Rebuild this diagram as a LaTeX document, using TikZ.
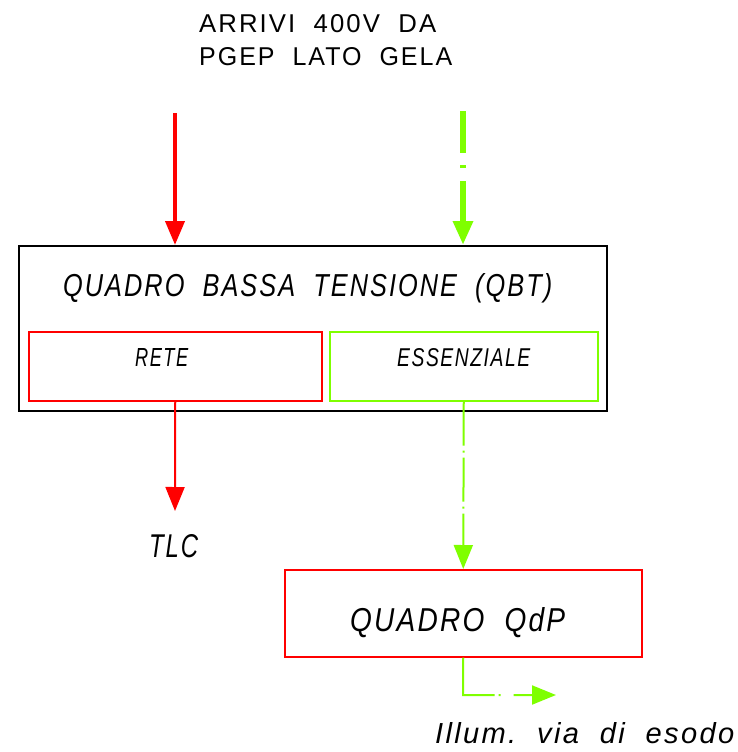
\documentclass[tikz,border=0pt]{standalone}
\usepackage{fontspec}
\usepackage{graphicx}
\usetikzlibrary{arrows.meta}
\setmainfont{Liberation Sans}
\newfontfamily\cadfont[LetterSpace=8]{Liberation Sans}
\definecolor{cadred}{RGB}{255,0,0}
\definecolor{cadgreen}{RGB}{127,255,0}
\newcommand\fittext[3]{\resizebox{#1pt}{#2pt}{\cadfont #3}}
\tikzset{
  box/.style={draw, inner sep=0pt, anchor=north west},
  txt/.style={inner sep=0pt, anchor=base west, text=black},
  tip/.style={-{Triangle[length=24pt,width=19pt]}},
  greendash/.style={cadgreen, dash pattern=#1},
}
\begin{document}
\begin{tikzpicture}[x=1pt,y=-1pt]
\useasboundingbox (0,0) rectangle (737,752);
% boxes
\node[box, line width=1.5pt, minimum width=588pt, minimum height=165pt] (qbt) at (18,245) {};
\node[box, cadred, line width=1.5pt, minimum width=293pt, minimum height=69pt] (rete) at (28,331) {};
\node[box, cadgreen, line width=1.5pt, minimum width=268pt, minimum height=69pt] (ess) at (329,331) {};
\node[box, cadred, line width=1.5pt, minimum width=357pt, minimum height=87pt] (qdp) at (284,569) {};
% texts
\node[txt] (t1) at (199,33) {\fittext{237}{18}{ARRIVI\ \ 400V\ \ DA}};
\node[txt] (t2) at (199,65) {\fittext{253}{18}{PGEP\ \ LATO\ \ GELA}};
\node[txt] (tqbt) at (63,296) {\fittext{489}{23}{\itshape QUADRO\ \ BASSA\ \ TENSIONE\ \ (QBT)}};
\node[txt] (trete) at (135,366) {\fittext{53}{18}{\itshape RETE}};
\node[txt] (tess) at (397,366) {\fittext{133}{18}{\itshape ESSENZIALE}};
\node[txt] (ttlc) at (149,557) {\fittext{49}{23}{\itshape TLC}};
\node[txt] (tqdp) at (350,631) {\fittext{215}{24}{\itshape QUADRO\ \ QdP}};
\node[txt] (till) at (435,743) {\fittext{299}{21}{\itshape Illum.\ \ via\ \ di\ \ esodo}};
% free ends
\coordinate (rin) at (175,113);
\coordinate (gin) at (463,111);
\coordinate (tlcend) at (175,511);
\coordinate (bend) at (463,695);
\coordinate (illend) at (556,695);
% connectors
\draw[tip, cadred, line width=4pt] (rin) -- (rin |- qbt.north);
\draw[tip, greendash={on 42pt off 12pt on 3pt off 13pt}, line width=6pt] (gin) -- (gin |- qbt.north);
\draw[tip, cadred, line width=2pt] (rete.south) -- (tlcend);
\draw[tip, greendash={on 44pt off 5pt on 2pt off 5pt}, line width=2pt] (ess.south) -- (qdp.north);
\draw[tip, greendash={on 69pt off 4pt on 2pt off 13pt}, line width=2pt] (qdp.south) -- (bend) -- (illend);
\end{tikzpicture}
\end{document}
